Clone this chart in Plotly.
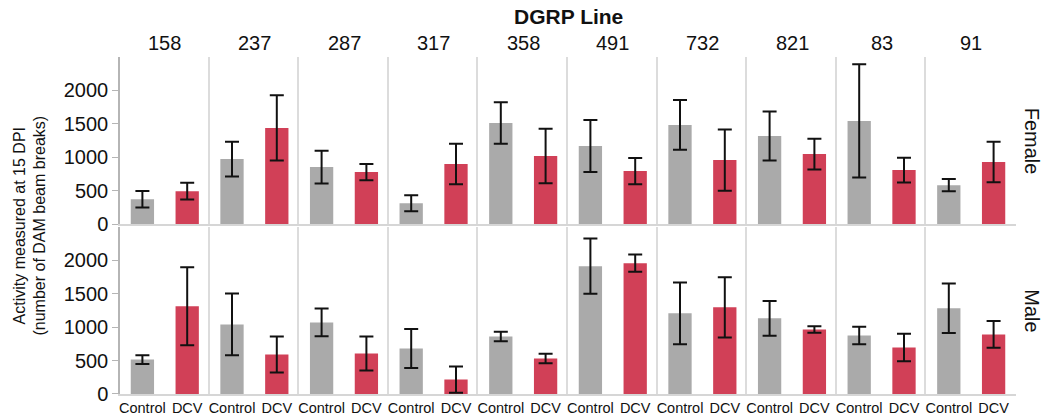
import plotly.graph_objects as go
from plotly.subplots import make_subplots

# DGRP lines (facet columns) and treatment groups
lines = ["158", "237", "287", "317", "358", "491", "732", "821", "83", "91"]
treatments = ["Control", "DCV"]
sexes = ["Female", "Male"]

# Mean activity (DAM beam breaks) and standard errors
female_control = [375, 975, 855, 315, 1515, 1170, 1485, 1320, 1545, 585]
female_control_se = [122, 260, 245, 120, 310, 390, 372, 365, 845, 92]
female_dcv = [495, 1440, 780, 900, 1020, 795, 960, 1050, 810, 930]
female_dcv_se = [125, 488, 120, 302, 408, 195, 458, 230, 185, 302]

male_control = [515, 1040, 1070, 680, 860, 1910, 1205, 1130, 875, 1280]
male_control_se = [65, 460, 208, 292, 70, 412, 460, 260, 130, 370]
male_dcv = [1310, 590, 605, 215, 530, 1955, 1295, 965, 695, 890]
male_dcv_se = [582, 268, 255, 195, 72, 128, 450, 48, 205, 200]

y_ticks = [0, 500, 1000, 1500, 2000]
y_range = [0, 2500]

GRAY = "#aaaaaa"
RED = "#d14057"
FONT = "Liberation Sans, Arial, Helvetica, sans-serif"

W, H = 1056, 415
ML, MR, MT, MB = 120, 40, 57, 21

rows_data = {
    "Female": (female_control, female_control_se, female_dcv, female_dcv_se),
    "Male": (male_control, male_control_se, male_dcv, male_dcv_se),
}

fig = make_subplots(rows=2, cols=len(lines), horizontal_spacing=0,
                    vertical_spacing=0.007)

for r, sex in enumerate(sexes, start=1):
    ctrl, ctrl_se, dcv, dcv_se = rows_data[sex]
    for c, line in enumerate(lines, start=1):
        fig.add_trace(
            go.Bar(
                x=treatments,
                y=[ctrl[c - 1], dcv[c - 1]],
                marker=dict(color=[GRAY, RED], line=dict(width=0)),
                error_y=dict(type="data", array=[ctrl_se[c - 1], dcv_se[c - 1]],
                             color="#111111", thickness=2, width=7),
                showlegend=False,
                hoverinfo="y",
            ),
            row=r, col=c,
        )
        first = c == 1
        fig.update_yaxes(
            range=y_range, tickvals=y_ticks, showgrid=False, zeroline=False,
            showline=True, linewidth=1.5, automargin=False,
            linecolor="#b5b5b5" if first else "#dcdcdc",
            ticks="outside" if first else "", ticklen=6, tickwidth=1.2,
            tickcolor="#b5b5b5", showticklabels=first,
            tickfont=dict(size=20, color="#111111", family=FONT),
            row=r, col=c,
        )
        fig.update_xaxes(
            showgrid=False, zeroline=False, showline=True, linewidth=2,
            linecolor="#d6d6d6", ticks="", showticklabels=(r == 2),
            automargin=False, ticklabelstandoff=0,
            tickfont=dict(size=14.5, color="#111111", family=FONT),
            row=r, col=c,
        )

fig.update_layout(bargap=0.48)

plot_w = W - ML - MR
plot_h = H - MT - MB


def px_to_paper_y(py):
    return 1 - (py - MT) / plot_h


def px_to_paper_x(px):
    return (px - ML) / plot_w


annotations = []
# Facet column labels
for c, line in enumerate(lines, start=1):
    dom = fig.layout[f"xaxis{'' if c == 1 else c}"].domain
    annotations.append(dict(
        text=line, x=(dom[0] + dom[1]) / 2, y=px_to_paper_y(43),
        xref="paper", yref="paper", showarrow=False,
        xanchor="center", yanchor="middle",
        font=dict(size=20, color="#111111", family=FONT),
    ))

annotations.append(dict(
    text="<b>DGRP Line</b>", x=0.5, y=px_to_paper_y(17),
    xref="paper", yref="paper", showarrow=False,
    xanchor="center", yanchor="middle",
    font=dict(size=21, color="#111111", family=FONT),
))

# Facet row labels
for r, sex in enumerate(sexes, start=1):
    ax = "yaxis" if r == 1 else f"yaxis{(r - 1) * len(lines) + 1}"
    dom = fig.layout[ax].domain
    annotations.append(dict(
        text=sex, x=px_to_paper_x(1032), y=(dom[0] + dom[1]) / 2,
        xref="paper", yref="paper", showarrow=False, textangle=90,
        xanchor="center", yanchor="middle",
        font=dict(size=20, color="#111111", family=FONT),
    ))

# Shared y-axis title
annotations.append(dict(
    text="Activity measured at 15 DPI<br>(number of DAM beam breaks)",
    x=px_to_paper_x(29), y=0.5, xref="paper", yref="paper",
    showarrow=False, textangle=-90, xanchor="center", yanchor="middle",
    font=dict(size=16, color="#111111", family=FONT),
))

fig.update_layout(
    width=W, height=H,
    margin=dict(l=ML, r=MR, t=MT, b=MB, pad=0, autoexpand=False),
    paper_bgcolor="white", plot_bgcolor="white",
    font=dict(family=FONT, color="#111111"),
    annotations=annotations,
)

fig.write_html("out.html", config={"displayModeBar": False})
